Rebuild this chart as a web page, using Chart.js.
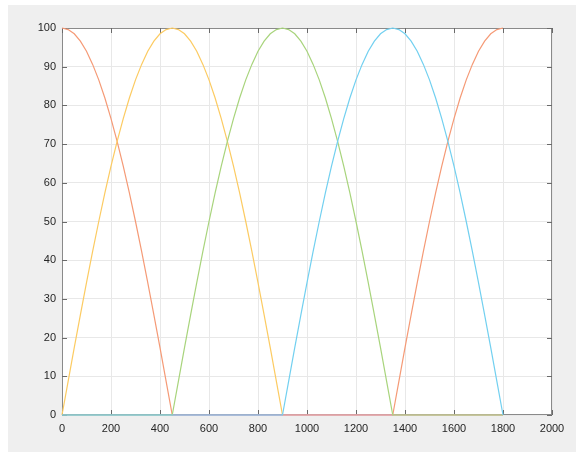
<!DOCTYPE html>
<html>
<head>
<meta charset="utf-8">
<script src="https://cdn.jsdelivr.net/npm/chart.js@4/dist/chart.umd.min.js"></script>
<style>
  html, body { margin: 0; padding: 0; background: #fff; }
  #frame { position: absolute; left: 8px; top: 5px; width: 568px; height: 447px; background: #efefef; }
  #wrap { position: absolute; left: 0; top: 0; width: 576px; height: 454px; }
</style>
</head>
<body>
<div id="frame"></div>
<div id="wrap"><canvas id="chart" width="576" height="454"></canvas></div>
<script>
// one quarter of an arc, read every 25 units (rising from 0 to 100 over 450)
const rise = [0, 8.7, 17.4, 25.9, 34.2, 42.3, 50, 57.4, 64.3, 70.7, 76.6, 81.9, 86.6, 90.6, 94, 96.6, 98.5, 99.6, 100];
const fall = [100, 99.6, 98.5, 96.6, 94, 90.6, 86.6, 81.9, 76.6, 70.7, 64.3, 57.4, 50, 42.3, 34.2, 25.9, 17.4, 8.7, 0];

const xStart = [0, 450, 900, 1350];   // starts of the four 450-wide stretches
const step = 25;

// per series: what each 450-wide stretch holds ('r' rise, 'f' fall, '0' flat)
const orangeParts = ['f', '0', '0', 'r'];
const yellowParts = ['r', 'f', '0', '0'];
const purpleParts = ['0', '0', '0', '0'];
const greenParts  = ['0', 'r', 'f', '0'];
const cyanParts   = ['0', '0', 'r', 'f'];

const xTicks = [0, 200, 400, 600, 800, 1000, 1200, 1400, 1600, 1800, 2000];
const yTicks = [0, 10, 20, 30, 40, 50, 60, 70, 80, 90, 100];

function pts(parts) {
  const out = [];
  parts.forEach((p, k) => {
    const vals = p === 'r' ? rise : p === 'f' ? fall : rise.map(() => 0);
    vals.forEach((v, i) => {
      if (k > 0 && i === 0) return;
      out.push({ x: xStart[k] + i * step, y: v });
    });
  });
  return out;
}

const line = (parts, color) => ({
  data: pts(parts),
  borderColor: color,
  borderWidth: 1.2,
  pointRadius: 0,
  fill: false,
  tension: 0,
  clip: 2,
});

// box around the axes with tick marks pointing inward on all four sides
const axesBox = {
  id: 'axesBox',
  beforeDatasetsDraw(chart) {
    const { ctx, chartArea: a, scales } = chart;
    ctx.save();
    ctx.strokeStyle = '#8a8a8a';
    ctx.lineWidth = 1;
    ctx.strokeRect(a.left + 0.5, a.top + 0.5, a.right - a.left - 1, a.bottom - a.top - 1);
    ctx.strokeStyle = '#6a6a6a';
    ctx.beginPath();
    const len = 5;
    xTicks.forEach(t => {
      const px = Math.round(scales.x.getPixelForValue(t)) + 0.5;
      ctx.moveTo(px, a.bottom); ctx.lineTo(px, a.bottom - len);
      ctx.moveTo(px, a.top); ctx.lineTo(px, a.top + len);
    });
    yTicks.forEach(t => {
      const py = Math.round(scales.y.getPixelForValue(t)) + 0.5;
      ctx.moveTo(a.left, py); ctx.lineTo(a.left + len, py);
      ctx.moveTo(a.right, py); ctx.lineTo(a.right - len, py);
    });
    ctx.stroke();
    ctx.restore();
  }
};

const plotBg = {
  id: 'plotBg',
  beforeDraw(chart) {
    const { ctx, chartArea: a } = chart;
    ctx.save();
    ctx.fillStyle = '#ffffff';
    ctx.fillRect(a.left, a.top, a.right - a.left, a.bottom - a.top);
    ctx.restore();
  }
};

const tickFont = { family: '"Liberation Sans", Arial, sans-serif', size: 11 };

new Chart(document.getElementById('chart'), {
  type: 'line',
  data: {
    // first dataset is painted last, so cyan sits on top
    datasets: [
      line(cyanParts, '#72d0f0'),
      line(greenParts, '#a8d47c'),
      line(purpleParts, '#d292d6'),
      line(yellowParts, '#fccb62'),
      line(orangeParts, '#f59a76'),
    ],
  },
  options: {
    responsive: false,
    animation: false,
    layout: { padding: { left: 0, top: 28, right: 24, bottom: 0 } },
    plugins: { legend: { display: false }, tooltip: { enabled: false } },
    scales: {
      x: {
        type: 'linear',
        min: 0,
        max: 2000,
        afterBuildTicks: s => { s.ticks = xTicks.map(v => ({ value: v })); },
        afterFit: s => { s.height = 39; },
        grid: { color: '#e8e8e8', drawTicks: false },
        border: { display: false },
        ticks: { color: '#262626', font: tickFont, padding: 7, maxRotation: 0, callback: v => String(v) },
      },
      y: {
        min: 0,
        max: 100,
        afterBuildTicks: s => { s.ticks = yTicks.map(v => ({ value: v })); },
        afterFit: s => { s.width = 62; },
        grid: { color: '#e8e8e8', drawTicks: false },
        border: { display: false },
        ticks: { color: '#262626', font: tickFont, padding: 6, callback: v => String(v) },
      },
    },
  },
  plugins: [plotBg, axesBox],
});
</script>
</body>
</html>
